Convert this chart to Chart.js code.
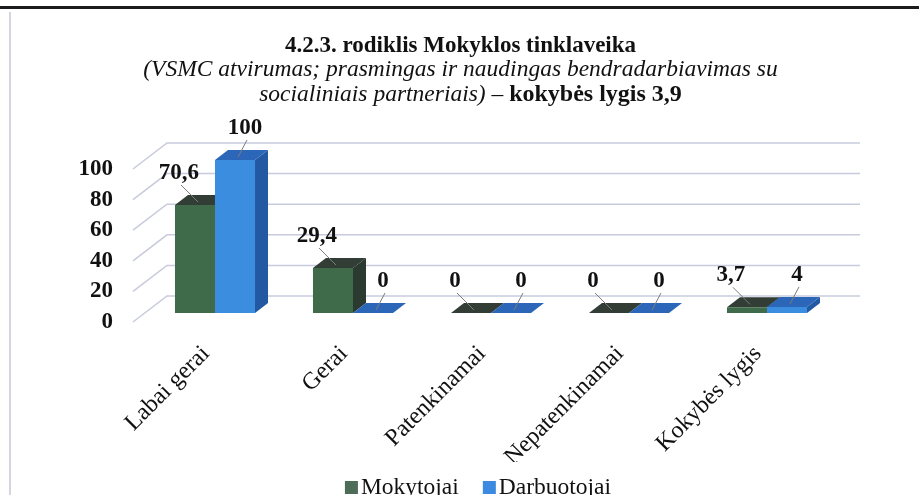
<!DOCTYPE html>
<html>
<head>
<meta charset="utf-8">
<script src="https://cdn.jsdelivr.net/npm/chart.js@4.4.1/dist/chart.umd.min.js"></script>
<style>
html,body{margin:0;padding:0;background:#fff;overflow:hidden;}
#wrap{position:relative;width:919px;height:495px;overflow:hidden;}
canvas{display:block;}
</style>
</head>
<body>
<div id="wrap"><canvas id="c" width="919" height="505"></canvas></div>
<script>
// ---- data ----
const categories = ['Labai gerai', 'Gerai', 'Patenkinamai', 'Nepatenkinamai', 'Kokybės lygis'];
const mokytojai = [70.6, 29.4, 0, 0, 3.7];
const darbuotojai = [100, 0, 0, 0, 4];
const seriesNames = ['Mokytojai', 'Darbuotojai'];
const yTickValues = [0, 20, 40, 60, 80, 100];
const titleLine1 = '4.2.3. rodiklis Mokyklos tinklaveika';
const titleLine2 = '(VSMC atvirumas; prasmingas ir naudingas bendradarbiavimas su';
const titleLine3a = 'socialiniais partneriais) – ';
const titleLine3b = 'kokybės lygis 3,9';

// ---- styles ----
const SERIF = '"Liberation Serif", "Times New Roman", serif';
const frontColors = ['#3f6b4b', '#3b8ddf'];
const topColors = ['#323d36', '#2c66b8'];
const sideColors = ['#2a3a30', '#2358a3'];
const legendColors = ['#4d6d58', '#3d8be0'];
const DEPTH_X = 13, DEPTH_Y = -10;
const labelDx = [-16, 10];
const labelDy = -32;

function fmt(v) { return String(v).replace('.', ','); }

const frame = {
  id: 'frame',
  beforeDraw(chart) {
    const ctx = chart.ctx;
    ctx.save();
    ctx.fillStyle = '#fff';
    ctx.fillRect(0, 0, chart.width, chart.height);
    ctx.strokeStyle = '#1c1c1c';
    ctx.lineWidth = 3;
    ctx.beginPath(); ctx.moveTo(0, 7.5); ctx.lineTo(chart.width, 7.5); ctx.stroke();
    ctx.strokeStyle = '#d4d5e0';
    ctx.lineWidth = 2;
    ctx.beginPath(); ctx.moveTo(10, 12); ctx.lineTo(10, chart.height); ctx.stroke();
    // title
    const cx = chart.width / 2 + 1;
    ctx.fillStyle = '#111';
    ctx.textBaseline = 'alphabetic';
    ctx.textAlign = 'center';
    ctx.font = 'bold 23px ' + SERIF;
    ctx.fillText(titleLine1, cx, 52);
    ctx.font = 'italic 23.5px ' + SERIF;
    ctx.fillText(titleLine2, cx, 76);
    ctx.font = 'italic 23.5px ' + SERIF;
    const wa = ctx.measureText(titleLine3a).width;
    ctx.font = 'bold 24px ' + SERIF;
    const wb = ctx.measureText(titleLine3b).width;
    const sx = cx + 10 - (wa + wb) / 2;
    ctx.textAlign = 'left';
    ctx.font = 'italic 23.5px ' + SERIF;
    ctx.fillText(titleLine3a, sx, 101);
    ctx.font = 'bold 24px ' + SERIF;
    ctx.fillText(titleLine3b, sx + wa, 101);
    ctx.restore();
  },
  afterDraw(chart) {
    // legend
    const ctx = chart.ctx;
    ctx.save();
    ctx.font = '23.5px ' + SERIF;
    ctx.textBaseline = 'alphabetic';
    ctx.textAlign = 'left';
    const box = 13, gap = 3, spacing = 24;
    const widths = seriesNames.map(n => ctx.measureText(n).width);
    const total = widths.reduce((a, w) => a + box + gap + w, 0) + spacing * (seriesNames.length - 1);
    let x = 478 - total / 2;
    seriesNames.forEach((n, i) => {
      ctx.fillStyle = legendColors[i];
      ctx.fillRect(x, 481, box, box);
      ctx.fillStyle = '#111';
      ctx.fillText(n, x + box + gap, 494);
      x += box + gap + widths[i] + spacing;
    });
    ctx.restore();
  }
};

const threeD = {
  id: 'threeD',
  beforeDatasetsDraw(chart) {
    const ctx = chart.ctx;
    const ys = chart.scales.y;
    const area = chart.chartArea;
    ctx.save();
    // 3D grid: diagonal side wall + back wall lines
    ctx.strokeStyle = '#c8cbdd';
    ctx.lineWidth = 1.5;
    ys.ticks.forEach(t => {
      const p = ys.getPixelForValue(t.value);
      ctx.beginPath();
      ctx.moveTo(area.left - 13, p + 9);
      ctx.lineTo(area.left + 21, p - 17);
      ctx.lineTo(area.right + 24, p - 17);
      ctx.stroke();
    });
    // side and top faces
    chart.data.datasets.forEach((ds, di) => {
      const meta = chart.getDatasetMeta(di);
      meta.data.forEach(bar => {
        const p = bar.getProps(['x', 'y', 'base', 'width'], true);
        const l = p.x - p.width / 2, r = p.x + p.width / 2;
        const top = p.y, base = p.base;
        if (base - top > 0.5) {
          ctx.fillStyle = sideColors[di];
          ctx.beginPath();
          ctx.moveTo(r, base); ctx.lineTo(r + DEPTH_X, base + DEPTH_Y);
          ctx.lineTo(r + DEPTH_X, top + DEPTH_Y); ctx.lineTo(r, top);
          ctx.closePath(); ctx.fill();
        }
        ctx.fillStyle = topColors[di];
        ctx.beginPath();
        ctx.moveTo(l, top); ctx.lineTo(l + DEPTH_X, top + DEPTH_Y);
        ctx.lineTo(r + DEPTH_X, top + DEPTH_Y); ctx.lineTo(r, top);
        ctx.closePath(); ctx.fill();
      });
    });
    ctx.restore();
  },
  afterDatasetsDraw(chart) {
    const ctx = chart.ctx;
    ctx.save();
    chart.data.datasets.forEach((ds, di) => {
      const meta = chart.getDatasetMeta(di);
      meta.data.forEach((bar, i) => {
        const p = bar.getProps(['x', 'y', 'base', 'width'], true);
        const lx = p.x + labelDx[di];
        const ly = p.y + labelDy;
        // leader line
        ctx.strokeStyle = '#7d7d7d';
        ctx.lineWidth = 1;
        ctx.beginPath();
        ctx.moveTo(lx + 2, ly + 12);
        ctx.lineTo(p.x + 3, p.y - 3);
        ctx.stroke();
        ctx.fillStyle = '#111';
        ctx.font = 'bold 23px ' + SERIF;
        ctx.textAlign = 'center';
        ctx.textBaseline = 'middle';
        ctx.fillText(fmt(ds.data[i]), lx, ly);
      });
    });
    ctx.restore();
  }
};

new Chart(document.getElementById('c'), {
  type: 'bar',
  data: {
    labels: categories,
    datasets: [
      { label: seriesNames[0], data: mokytojai, backgroundColor: frontColors[0], borderWidth: 0 },
      { label: seriesNames[1], data: darbuotojai, backgroundColor: frontColors[1], borderWidth: 0 }
    ]
  },
  options: {
    responsive: false,
    animation: false,
    devicePixelRatio: 1,
    categoryPercentage: 0.58,
    barPercentage: 1,
    layout: { padding: { left: 10, right: 83, top: 160, bottom: 43 } },
    plugins: {
      title: { display: false },
      tooltip: { enabled: false },
      legend: { display: false }
    },
    scales: {
      x: {
        grid: { display: false, drawTicks: false },
        border: { display: false },
        ticks: {
          color: '#111',
          font: { family: SERIF, size: 24 },
          minRotation: 45,
          maxRotation: 45,
          padding: 27,
          labelOffset: -9,
          autoSkip: false
        },
        afterFit(scale) { scale.height = 149; }
      },
      y: {
        min: 0,
        max: 100,
        afterBuildTicks(scale) { scale.ticks = yTickValues.map(v => ({ value: v })); },
        grid: { display: false, drawTicks: false },
        border: { display: false },
        ticks: {
          color: '#111',
          font: { family: SERIF, size: 23, weight: 'bold' },
          padding: 33,
          labelOffset: 9,
          callback: v => String(v)
        },
        afterFit(scale) { scale.width = 136; }
      }
    }
  },
  plugins: [frame, threeD]
});
</script>
</body>
</html>
